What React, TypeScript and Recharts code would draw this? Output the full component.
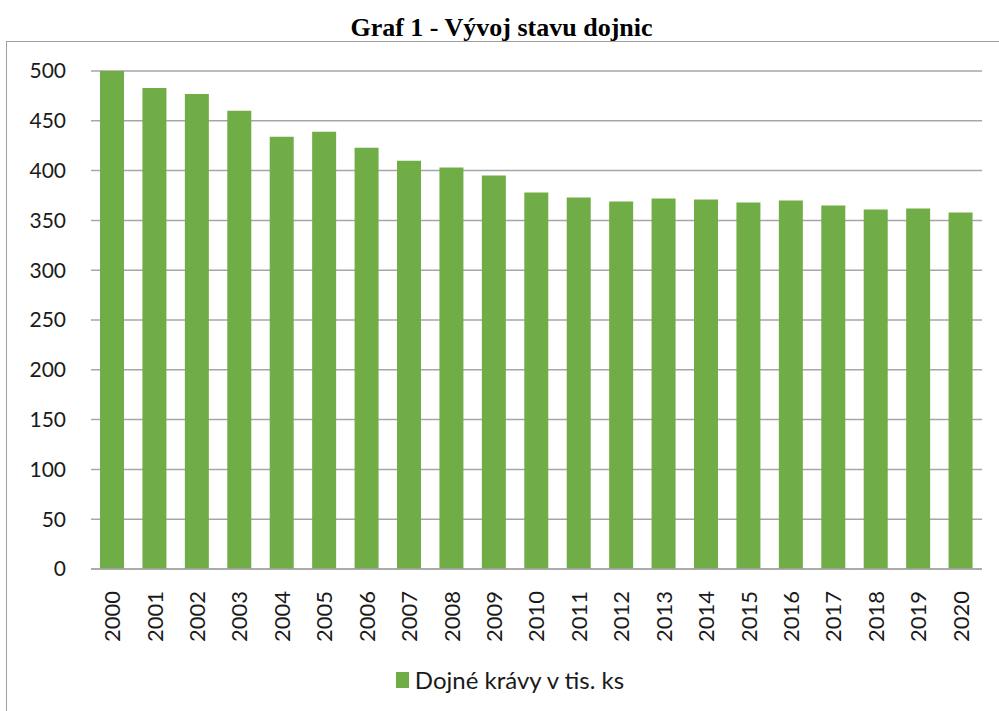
import React from 'react';
import { BarChart, Bar, XAxis, YAxis, CartesianGrid, Legend } from 'recharts';

const years = [
  '2000', '2001', '2002', '2003', '2004', '2005', '2006', '2007', '2008', '2009', '2010',
  '2011', '2012', '2013', '2014', '2015', '2016', '2017', '2018', '2019', '2020',
];
const cows = [
  500, 483, 477, 460, 434, 439, 423, 410, 403, 395, 378,
  373, 369, 372, 371, 368, 370, 365, 361, 362, 358,
];
const yTicks = [0, 50, 100, 150, 200, 250, 300, 350, 400, 450, 500];
const seriesName = 'Dojné krávy v tis. ks';
const title = 'Graf 1 - Vývoj stavu dojnic';

const data = years.map((year, i) => ({ year, value: cows[i] }));

const GREEN = '#70ad47';
const GRID = '#a6a6a6';
const FONT = 'Lato, "Open Sans", sans-serif';

const YearTick = ({ x, y, payload }: any) => (
  <g transform={`translate(${x},${y + 14})`}>
    <text
      transform="rotate(-90)"
      textAnchor="end"
      dy="0.36em"
      fontSize={22}
      fontFamily={FONT}
      fill="#1a1a1a"
    >
      {payload.value}
    </text>
  </g>
);

const LegendBox = () => (
  <div
    style={{
      height: 40,
      display: 'flex',
      justifyContent: 'center',
      alignItems: 'flex-start',
      paddingLeft: 38,
      fontFamily: FONT,
      fontSize: 24,
      color: '#1a1a1a',
    }}
  >
    <span style={{ display: 'inline-block', width: 13, height: 16, background: GREEN, marginTop: 1, marginRight: 6 }} />
    <span style={{ lineHeight: '18px' }}>{seriesName}</span>
  </div>
);

export default function App() {
  return (
    <div style={{ position: 'absolute', left: 0, top: 0, width: 999, height: 711, background: '#fff', overflow: 'hidden' }}>
      <div
        style={{
          position: 'absolute',
          left: 6,
          top: 41,
          width: 1000,
          height: 700,
          borderLeft: '1.5px solid #a0a0a0',
          borderTop: '1.5px solid #a0a0a0',
        }}
      />
      <div
        style={{
          position: 'absolute',
          top: 14,
          left: 0,
          width: 999,
          textAlign: 'center',
          fontFamily: '"Liberation Serif", "Times New Roman", serif',
          fontWeight: 'bold',
          fontSize: 26,
          lineHeight: '28px',
          color: '#000',
          paddingLeft: 2,
        }}
      >
        {title}
      </div>
      <div style={{ position: 'absolute', left: 0, top: 0 }}>
        <BarChart
          width={999}
          height={711}
          data={data}
          margin={{ top: 71, right: 17, left: 0, bottom: 0 }}
        >
          <CartesianGrid vertical={false} stroke={GRID} strokeWidth={1.5} />
          <XAxis
            dataKey="year"
            height={102}
            interval={0}
            tickLine={false}
            axisLine={{ stroke: GRID, strokeWidth: 1.5 }}
            tick={<YearTick />}
          />
          <YAxis
            width={91}
            domain={[0, 500]}
            ticks={yTicks}
            axisLine={false}
            tickLine={false}
            tickSize={0}
            tickMargin={25}
            tick={{ fontSize: 21, fontFamily: FONT, fill: '#1a1a1a' }}
          />
          <Legend verticalAlign="bottom" content={<LegendBox />} />
          <Bar dataKey="value" name={seriesName} fill={GREEN} barSize={24} isAnimationActive={false} />
        </BarChart>
      </div>
    </div>
  );
}
